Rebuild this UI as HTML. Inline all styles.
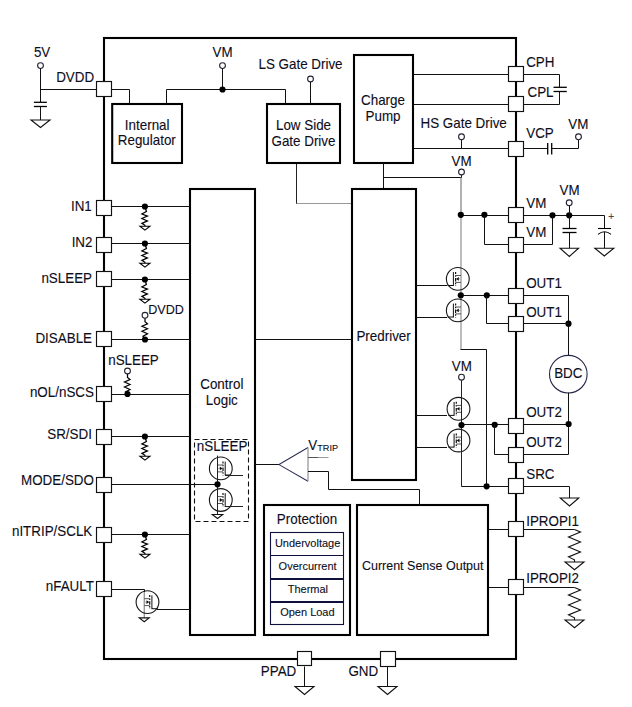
<!DOCTYPE html>
<html><head><meta charset="utf-8"><style>
html,body{margin:0;padding:0;background:#fff;}
svg{display:block;}
text{font-family:"Liberation Sans",sans-serif;}
</style></head><body>
<svg width="632" height="707" viewBox="0 0 632 707">
<rect width="632" height="707" fill="#fff"/>
<rect x="104" y="38" width="412" height="621" fill="none" stroke="#000" stroke-width="2.1"/>
<text transform="translate(33.9,57.1) scale(1,1.04)" font-size="13.4" text-anchor="start" fill="#0d0d1a" stroke="#0d0d1a" stroke-width="0.1">5V</text>
<circle cx="40.5" cy="65.6" r="2.9" fill="#fff" stroke="#223" stroke-width="1.1"/>
<line x1="40.5" y1="68.5" x2="40.5" y2="102.2" stroke="#111" stroke-width="1"/>
<line x1="33.9" y1="102.3" x2="46.9" y2="102.3" stroke="#000" stroke-width="1.3"/>
<line x1="33.9" y1="106.5" x2="46.9" y2="106.5" stroke="#000" stroke-width="1.3"/>
<line x1="40.5" y1="106.5" x2="40.5" y2="120" stroke="#111" stroke-width="1"/>
<polygon points="31.0,120 50.0,120 40.5,127.5" fill="#fff" stroke="#111" stroke-width="1.1"/>
<line x1="40.5" y1="89.5" x2="97" y2="89.5" stroke="#111" stroke-width="1"/>
<text transform="translate(56.2,81.5) scale(1,1.04)" font-size="13.4" text-anchor="start" fill="#0d0d1a" stroke="#0d0d1a" stroke-width="0.1">DVDD</text>
<polyline points="111,89.5 129.5,89.5 129.5,103" fill="none" stroke="#111" stroke-width="1" stroke-linejoin="miter"/>
<text transform="translate(222.5,56.7) scale(1,1.04)" font-size="13.4" text-anchor="middle" fill="#0d0d1a" stroke="#0d0d1a" stroke-width="0.1">VM</text>
<circle cx="222.5" cy="65.6" r="2.9" fill="#fff" stroke="#223" stroke-width="1.1"/>
<line x1="222.5" y1="68.5" x2="222.5" y2="89.5" stroke="#111" stroke-width="1"/>
<polyline points="166.5,103 166.5,89.5 285.5,89.5 285.5,103" fill="none" stroke="#111" stroke-width="1" stroke-linejoin="miter"/>
<circle cx="222.5" cy="89.5" r="3.1" fill="#000"/>
<text transform="translate(258.5,68.5) scale(1,1.04)" font-size="13.4" text-anchor="start" fill="#0d0d1a" stroke="#0d0d1a" stroke-width="0.1">LS Gate Drive</text>
<circle cx="310.5" cy="79" r="2.9" fill="#fff" stroke="#223" stroke-width="1.1"/>
<line x1="310.5" y1="82" x2="310.5" y2="103" stroke="#111" stroke-width="1"/>
<rect x="112.2" y="104" width="69.8" height="59" fill="none" stroke="#000" stroke-width="2.1"/>
<text transform="translate(147.2,129.7) scale(1,1.04)" font-size="13.4" text-anchor="middle" fill="#0d0d1a" stroke="#0d0d1a" stroke-width="0.1">Internal</text>
<text transform="translate(146.8,145.3) scale(1,1.04)" font-size="13.4" text-anchor="middle" fill="#0d0d1a" stroke="#0d0d1a" stroke-width="0.1">Regulator</text>
<rect x="267" y="104" width="73" height="59" fill="none" stroke="#000" stroke-width="2.1"/>
<text transform="translate(303.5,130.4) scale(1,1.04)" font-size="13.4" text-anchor="middle" fill="#0d0d1a" stroke="#0d0d1a" stroke-width="0.1">Low Side</text>
<text transform="translate(303.5,145.7) scale(1,1.04)" font-size="13.4" text-anchor="middle" fill="#0d0d1a" stroke="#0d0d1a" stroke-width="0.1">Gate Drive</text>
<rect x="354" y="55" width="59" height="108" fill="none" stroke="#000" stroke-width="2.1"/>
<text transform="translate(383,105) scale(1,1.04)" font-size="13.4" text-anchor="middle" fill="#0d0d1a" stroke="#0d0d1a" stroke-width="0.1">Charge</text>
<text transform="translate(383,120.5) scale(1,1.04)" font-size="13.4" text-anchor="middle" fill="#0d0d1a" stroke="#0d0d1a" stroke-width="0.1">Pump</text>
<line x1="414" y1="74.5" x2="509" y2="74.5" stroke="#111" stroke-width="1"/>
<line x1="414" y1="104.5" x2="509" y2="104.5" stroke="#111" stroke-width="1"/>
<line x1="414" y1="148.5" x2="509" y2="148.5" stroke="#111" stroke-width="1"/>
<text transform="translate(420.5,127.9) scale(1,1.04)" font-size="13.4" text-anchor="start" fill="#0d0d1a" stroke="#0d0d1a" stroke-width="0.1">HS Gate Drive</text>
<circle cx="461.5" cy="136.8" r="2.9" fill="#fff" stroke="#223" stroke-width="1.1"/>
<line x1="461.5" y1="139.7" x2="461.5" y2="148.5" stroke="#111" stroke-width="1"/>
<line x1="383.5" y1="163" x2="383.5" y2="188.5" stroke="#111" stroke-width="1"/>
<line x1="383.5" y1="177.5" x2="461.5" y2="177.5" stroke="#111" stroke-width="1"/>
<text transform="translate(461.5,166) scale(1,1.04)" font-size="13.4" text-anchor="middle" fill="#0d0d1a" stroke="#0d0d1a" stroke-width="0.1">VM</text>
<circle cx="461.5" cy="172" r="2.9" fill="#fff" stroke="#223" stroke-width="1.1"/>
<line x1="461.5" y1="175" x2="461.5" y2="178" stroke="#222" stroke-width="1"/>
<line x1="461" y1="177.5" x2="461" y2="215" stroke="#888" stroke-width="1.3"/>
<line x1="461" y1="215" x2="461" y2="349.5" stroke="#999" stroke-width="1.3"/>
<line x1="296.5" y1="164" x2="296.5" y2="204" stroke="#222" stroke-width="1"/>
<line x1="296.5" y1="203.5" x2="351" y2="203.5" stroke="#999" stroke-width="1"/>
<rect x="190" y="189" width="65" height="446" fill="none" stroke="#000" stroke-width="2.1"/>
<text transform="translate(221.8,389) scale(1,1.04)" font-size="13.4" text-anchor="middle" fill="#0d0d1a" stroke="#0d0d1a" stroke-width="0.1">Control</text>
<text transform="translate(221.8,404.5) scale(1,1.04)" font-size="13.4" text-anchor="middle" fill="#0d0d1a" stroke="#0d0d1a" stroke-width="0.1">Logic</text>
<rect x="352" y="189" width="64" height="291" fill="none" stroke="#000" stroke-width="2.1"/>
<text transform="translate(383.6,341) scale(1,1.04)" font-size="13.4" text-anchor="middle" fill="#0d0d1a" stroke="#0d0d1a" stroke-width="0.1">Predriver</text>
<rect x="264" y="505" width="86" height="130" fill="none" stroke="#000" stroke-width="2.1"/>
<text transform="translate(307,524) scale(1,1.04)" font-size="13.4" text-anchor="middle" fill="#0d0d1a" stroke="#0d0d1a" stroke-width="0.1">Protection</text>
<rect x="270.5" y="532.5" width="73" height="92" fill="none" stroke="#10103c" stroke-width="1.1"/>
<line x1="270.5" y1="555.5" x2="343.5" y2="555.5" stroke="#10103c" stroke-width="1.1"/>
<line x1="270.5" y1="579" x2="343.5" y2="579" stroke="#10103c" stroke-width="2"/>
<line x1="270.5" y1="602" x2="343.5" y2="602" stroke="#10103c" stroke-width="2"/>
<text transform="translate(307.6,547) scale(1,1.04)" font-size="11" text-anchor="middle" fill="#0d0d1a" stroke="#0d0d1a" stroke-width="0.1">Undervoltage</text>
<text transform="translate(307.6,569.6) scale(1,1.04)" font-size="11" text-anchor="middle" fill="#0d0d1a" stroke="#0d0d1a" stroke-width="0.1">Overcurrent</text>
<text transform="translate(307.9,593.2) scale(1,1.04)" font-size="11" text-anchor="middle" fill="#0d0d1a" stroke="#0d0d1a" stroke-width="0.1">Thermal</text>
<text transform="translate(307.4,616.4) scale(1,1.04)" font-size="11" text-anchor="middle" fill="#0d0d1a" stroke="#0d0d1a" stroke-width="0.1">Open Load</text>
<rect x="357" y="505" width="131" height="130" fill="none" stroke="#000" stroke-width="2.1"/>
<text transform="translate(422.7,569.9) scale(1,1.04)" font-size="12.5" text-anchor="middle" fill="#0d0d1a" stroke="#0d0d1a" stroke-width="0.1">Current Sense Output</text>
<line x1="111" y1="206.5" x2="190" y2="206.5" stroke="#111" stroke-width="1"/>
<text transform="translate(91.8,210.8) scale(1,1.04)" font-size="13.4" text-anchor="end" fill="#0d0d1a" stroke="#0d0d1a" stroke-width="0.1">IN1</text>
<line x1="111" y1="243.5" x2="190" y2="243.5" stroke="#111" stroke-width="1"/>
<text transform="translate(92.5,246.9) scale(1,1.04)" font-size="13.4" text-anchor="end" fill="#0d0d1a" stroke="#0d0d1a" stroke-width="0.1">IN2</text>
<line x1="111" y1="279.5" x2="190" y2="279.5" stroke="#111" stroke-width="1"/>
<text transform="translate(92.0,282.7) scale(1,1.04)" font-size="13.4" text-anchor="end" fill="#0d0d1a" stroke="#0d0d1a" stroke-width="0.1">nSLEEP</text>
<line x1="111" y1="339.5" x2="190" y2="339.5" stroke="#111" stroke-width="1"/>
<text transform="translate(92.0,342.5) scale(1,1.04)" font-size="13.4" text-anchor="end" fill="#0d0d1a" stroke="#0d0d1a" stroke-width="0.1">DISABLE</text>
<line x1="111" y1="394.5" x2="190" y2="394.5" stroke="#111" stroke-width="1"/>
<text transform="translate(93.89999999999999,396.6) scale(1,1.04)" font-size="13.4" text-anchor="end" fill="#0d0d1a" stroke="#0d0d1a" stroke-width="0.1">nOL/nSCS</text>
<line x1="111" y1="436.5" x2="190" y2="436.5" stroke="#111" stroke-width="1"/>
<text transform="translate(91.89999999999999,438.6) scale(1,1.04)" font-size="13.4" text-anchor="end" fill="#0d0d1a" stroke="#0d0d1a" stroke-width="0.1">SR/SDI</text>
<line x1="111" y1="484.5" x2="217.5" y2="484.5" stroke="#111" stroke-width="1"/>
<text transform="translate(93.89999999999999,485.3) scale(1,1.04)" font-size="13.4" text-anchor="end" fill="#0d0d1a" stroke="#0d0d1a" stroke-width="0.1">MODE/SDO</text>
<line x1="111" y1="534.5" x2="190" y2="534.5" stroke="#111" stroke-width="1"/>
<text transform="translate(92.3,535.6) scale(1,1.04)" font-size="13.4" text-anchor="end" fill="#0d0d1a" stroke="#0d0d1a" stroke-width="0.1">nITRIP/SCLK</text>
<polyline points="111,589.5 144.5,589.5 144.5,592" fill="none" stroke="#111" stroke-width="1" stroke-linejoin="miter"/>
<line x1="144.3" y1="592" x2="144.3" y2="618" stroke="#999" stroke-width="1.4"/>
<text transform="translate(93.89999999999999,590.6) scale(1,1.04)" font-size="13.4" text-anchor="end" fill="#0d0d1a" stroke="#0d0d1a" stroke-width="0.1">nFAULT</text>
<polyline points="144.9,206.5 146.4,211.5 141.9,214.0 147.4,216.1 141.9,218.5 147.4,220.9 141.9,223.4 144.9,225.3 144.9,226.3" fill="none" stroke="#000" stroke-width="1.25" stroke-linejoin="miter"/>
<polygon points="139.9,226.3 149.9,226.3 144.9,230.10000000000002" fill="#fff" stroke="#000" stroke-width="1.1"/>
<circle cx="144.9" cy="206.5" r="3.1" fill="#000"/>
<polyline points="144.9,243.5 146.4,248.5 141.9,251.0 147.4,253.1 141.9,255.5 147.4,257.9 141.9,260.4 144.9,262.3 144.9,263.3" fill="none" stroke="#000" stroke-width="1.25" stroke-linejoin="miter"/>
<polygon points="139.9,263.3 149.9,263.3 144.9,267.1" fill="#fff" stroke="#000" stroke-width="1.1"/>
<circle cx="144.9" cy="243.5" r="3.1" fill="#000"/>
<polyline points="144.9,279.5 146.4,284.5 141.9,287.0 147.4,289.1 141.9,291.5 147.4,293.9 141.9,296.4 144.9,298.3 144.9,299.3" fill="none" stroke="#000" stroke-width="1.25" stroke-linejoin="miter"/>
<polygon points="139.9,299.3 149.9,299.3 144.9,303.1" fill="#fff" stroke="#000" stroke-width="1.1"/>
<circle cx="144.9" cy="279.5" r="3.1" fill="#000"/>
<polyline points="144.9,436.5 146.4,441.5 141.9,444.0 147.4,446.1 141.9,448.5 147.4,450.9 141.9,453.4 144.9,455.3 144.9,456.3" fill="none" stroke="#000" stroke-width="1.25" stroke-linejoin="miter"/>
<polygon points="139.9,456.3 149.9,456.3 144.9,460.1" fill="#fff" stroke="#000" stroke-width="1.1"/>
<circle cx="144.9" cy="436.5" r="3.1" fill="#000"/>
<polyline points="144.9,534.5 146.4,539.5 141.9,542.0 147.4,544.1 141.9,546.5 147.4,548.9 141.9,551.4 144.9,553.3 144.9,554.3" fill="none" stroke="#000" stroke-width="1.25" stroke-linejoin="miter"/>
<polygon points="139.9,554.3 149.9,554.3 144.9,558.0999999999999" fill="#fff" stroke="#000" stroke-width="1.1"/>
<circle cx="144.9" cy="534.5" r="3.1" fill="#000"/>
<polyline points="145,318.1 145,321.8 147.5,323.8 142,326.3 147.5,328.8 142,331.3 147.5,333.8 143,336.3 145,339.5" fill="none" stroke="#000" stroke-width="1.25" stroke-linejoin="miter"/>
<circle cx="145" cy="315.3" r="2.9" fill="#fff" stroke="#223" stroke-width="1.1"/>
<circle cx="145" cy="339.5" r="3.1" fill="#000"/>
<text transform="translate(148.2,314.3) scale(1,1.04)" font-size="12.6" text-anchor="start" fill="#0d0d1a" stroke="#0d0d1a" stroke-width="0.1">DVDD</text>
<polyline points="127.5,373.8 127.5,377.5 130.0,379.5 124.5,382 130.0,384.5 124.5,387 130.0,389.5 125.5,392 127.5,394.5" fill="none" stroke="#000" stroke-width="1.25" stroke-linejoin="miter"/>
<circle cx="127.5" cy="371" r="2.9" fill="#fff" stroke="#223" stroke-width="1.1"/>
<circle cx="127.5" cy="394" r="3.1" fill="#000"/>
<text transform="translate(108.2,364.7) scale(1,1.04)" font-size="13.4" text-anchor="start" fill="#0d0d1a" stroke="#0d0d1a" stroke-width="0.1">nSLEEP</text>
<line x1="255" y1="339.5" x2="352" y2="339.5" stroke="#111" stroke-width="1"/>
<circle cx="147.5" cy="602.1" r="11.4" fill="none" stroke="#151515" stroke-width="1.1"/>
<g stroke="#111" stroke-width="1" fill="none">
<line x1="151.9" y1="595.3000000000001" x2="151.9" y2="609.1"/>
<line x1="157.76" y1="608.7" x2="151.9" y2="608.7"/>
<line x1="149.7" y1="595.1" x2="149.7" y2="609.1" stroke-width="1.2" stroke-dasharray="2,1.3,1.5,1.3,3.5,1.3,1.5,1.3,2"/>
<line x1="149.7" y1="598.7" x2="144.3" y2="598.7" stroke="#555"/>
<line x1="149.7" y1="605.6" x2="144.3" y2="605.6" stroke="#555"/>
<line x1="147.2" y1="602.1" x2="144.3" y2="602.1" stroke="#aaa"/>
</g>
<polygon points="149.29999999999998,602.1 146.5,600.2 146.5,604.0" fill="#111"/>
<polygon points="139.2,617.9 149.2,617.9 144.2,621.8" fill="#fff" stroke="#111" stroke-width="1.1"/>
<line x1="157" y1="609.5" x2="190" y2="609.5" stroke="#111" stroke-width="1"/>
<rect x="194.5" y="439.5" width="54" height="82" fill="none" stroke="#111" stroke-width="1.1" stroke-dasharray="5,3"/>
<text transform="translate(196.8,450.8) scale(1,1.04)" font-size="13.4" text-anchor="start" fill="#0d0d1a" stroke="#0d0d1a" stroke-width="0.1">nSLEEP</text>
<circle cx="220.8" cy="468.4" r="11.4" fill="none" stroke="#151515" stroke-width="1.1"/>
<g stroke="#111" stroke-width="1" fill="none">
<line x1="225.20000000000002" y1="461.59999999999997" x2="225.20000000000002" y2="475.4"/>
<line x1="231.06" y1="475.0" x2="225.20000000000002" y2="475.0"/>
<line x1="223.0" y1="461.4" x2="223.0" y2="475.4" stroke-width="1.2" stroke-dasharray="2,1.3,1.5,1.3,3.5,1.3,1.5,1.3,2"/>
<line x1="223.0" y1="465.0" x2="217.60000000000002" y2="465.0" stroke="#555"/>
<line x1="223.0" y1="471.9" x2="217.60000000000002" y2="471.9" stroke="#555"/>
<line x1="220.5" y1="468.4" x2="217.60000000000002" y2="468.4" stroke="#aaa"/>
</g>
<polygon points="222.6,468.4 219.8,466.5 219.8,470.29999999999995" fill="#111"/>
<circle cx="220.8" cy="500" r="11.4" fill="none" stroke="#151515" stroke-width="1.1"/>
<g stroke="#111" stroke-width="1" fill="none">
<line x1="225.20000000000002" y1="493.2" x2="225.20000000000002" y2="507"/>
<line x1="231.06" y1="506.6" x2="225.20000000000002" y2="506.6"/>
<line x1="223.0" y1="493" x2="223.0" y2="507" stroke-width="1.2" stroke-dasharray="2,1.3,1.5,1.3,3.5,1.3,1.5,1.3,2"/>
<line x1="223.0" y1="496.6" x2="217.60000000000002" y2="496.6" stroke="#555"/>
<line x1="223.0" y1="503.5" x2="217.60000000000002" y2="503.5" stroke="#555"/>
<line x1="220.5" y1="500" x2="217.60000000000002" y2="500" stroke="#aaa"/>
</g>
<polygon points="222.6,500 219.8,498.1 219.8,501.9" fill="#111"/>
<line x1="217.5" y1="455.6" x2="217.5" y2="514.5" stroke="#222" stroke-width="1"/>
<circle cx="217.5" cy="484.3" r="3.1" fill="#000"/>
<polygon points="212.25,514.5 222.75,514.5 217.5,518.5" fill="#fff" stroke="#111" stroke-width="1.1"/>
<line x1="225" y1="475.5" x2="243" y2="475.5" stroke="#222" stroke-width="1"/>
<line x1="225" y1="506.5" x2="243" y2="506.5" stroke="#222" stroke-width="1"/>
<line x1="255" y1="464.5" x2="279" y2="464.5" stroke="#111" stroke-width="1"/>
<polyline points="308,447.5 279,464.6 308,481.3" fill="none" stroke="#2b2e55" stroke-width="1.05"/>
<line x1="308" y1="447.5" x2="308" y2="481.3" stroke="#999" stroke-width="1.3"/>
<line x1="308" y1="457.5" x2="318" y2="457.5" stroke="#555" stroke-width="1"/>
<line x1="318" y1="457.5" x2="328.5" y2="457.5" stroke="#999" stroke-width="1"/>
<polyline points="308,471.5 328.5,471.5 328.5,489.5 419.5,489.5 419.5,505" fill="none" stroke="#111" stroke-width="1" stroke-linejoin="miter"/>
<text transform="translate(308.2,449.8) scale(1,1.04)" font-size="13.4" text-anchor="start" fill="#0d0d1a" stroke="#0d0d1a" stroke-width="0.1">V</text>
<text transform="translate(317.3,451.3) scale(1,1.04)" font-size="9.1" text-anchor="start" fill="#0d0d1a" stroke="#0d0d1a" stroke-width="0.1">TRIP</text>
<line x1="460.5" y1="215.5" x2="509" y2="215.5" stroke="#111" stroke-width="1"/>
<circle cx="460.8" cy="214.8" r="3.1" fill="#000"/>
<circle cx="484.4" cy="214.8" r="3.1" fill="#000"/>
<polyline points="484.5,215.5 484.5,244.5 509,244.5" fill="none" stroke="#111" stroke-width="1" stroke-linejoin="miter"/>
<circle cx="457.8" cy="278.9" r="11.4" fill="none" stroke="#151515" stroke-width="1.1"/>
<g stroke="#111" stroke-width="1" fill="none">
<line x1="453.40000000000003" y1="272.09999999999997" x2="453.40000000000003" y2="285.9"/>
<line x1="447.54" y1="285.5" x2="453.40000000000003" y2="285.5"/>
<line x1="455.6" y1="271.9" x2="455.6" y2="285.9" stroke-width="1.2" stroke-dasharray="2,1.3,1.5,1.3,3.5,1.3,1.5,1.3,2"/>
<line x1="455.6" y1="275.5" x2="461.0" y2="275.5" stroke="#555"/>
<line x1="455.6" y1="282.4" x2="461.0" y2="282.4" stroke="#555"/>
<line x1="458.1" y1="278.9" x2="461.0" y2="278.9" stroke="#aaa"/>
</g>
<polygon points="456.0,278.9 458.8,277.0 458.8,280.79999999999995" fill="#111"/>
<circle cx="457.8" cy="310.4" r="11.4" fill="none" stroke="#151515" stroke-width="1.1"/>
<g stroke="#111" stroke-width="1" fill="none">
<line x1="453.40000000000003" y1="303.59999999999997" x2="453.40000000000003" y2="317.4"/>
<line x1="447.54" y1="317.0" x2="453.40000000000003" y2="317.0"/>
<line x1="455.6" y1="303.4" x2="455.6" y2="317.4" stroke-width="1.2" stroke-dasharray="2,1.3,1.5,1.3,3.5,1.3,1.5,1.3,2"/>
<line x1="455.6" y1="307.0" x2="461.0" y2="307.0" stroke="#555"/>
<line x1="455.6" y1="313.9" x2="461.0" y2="313.9" stroke="#555"/>
<line x1="458.1" y1="310.4" x2="461.0" y2="310.4" stroke="#aaa"/>
</g>
<polygon points="456.0,310.4 458.8,308.5 458.8,312.29999999999995" fill="#111"/>
<circle cx="458.5" cy="408.8" r="11.4" fill="none" stroke="#151515" stroke-width="1.1"/>
<g stroke="#111" stroke-width="1" fill="none">
<line x1="454.1" y1="402.0" x2="454.1" y2="415.8"/>
<line x1="448.24" y1="415.40000000000003" x2="454.1" y2="415.40000000000003"/>
<line x1="456.3" y1="401.8" x2="456.3" y2="415.8" stroke-width="1.2" stroke-dasharray="2,1.3,1.5,1.3,3.5,1.3,1.5,1.3,2"/>
<line x1="456.3" y1="405.40000000000003" x2="461.7" y2="405.40000000000003" stroke="#555"/>
<line x1="456.3" y1="412.3" x2="461.7" y2="412.3" stroke="#555"/>
<line x1="458.8" y1="408.8" x2="461.7" y2="408.8" stroke="#aaa"/>
</g>
<polygon points="456.7,408.8 459.5,406.90000000000003 459.5,410.7" fill="#111"/>
<circle cx="458.5" cy="440.5" r="11.4" fill="none" stroke="#151515" stroke-width="1.1"/>
<g stroke="#111" stroke-width="1" fill="none">
<line x1="454.1" y1="433.7" x2="454.1" y2="447.5"/>
<line x1="448.24" y1="447.1" x2="454.1" y2="447.1"/>
<line x1="456.3" y1="433.5" x2="456.3" y2="447.5" stroke-width="1.2" stroke-dasharray="2,1.3,1.5,1.3,3.5,1.3,1.5,1.3,2"/>
<line x1="456.3" y1="437.1" x2="461.7" y2="437.1" stroke="#555"/>
<line x1="456.3" y1="444.0" x2="461.7" y2="444.0" stroke="#555"/>
<line x1="458.8" y1="440.5" x2="461.7" y2="440.5" stroke="#aaa"/>
</g>
<polygon points="456.7,440.5 459.5,438.6 459.5,442.4" fill="#111"/>
<line x1="416" y1="285.5" x2="447" y2="285.5" stroke="#111" stroke-width="1"/>
<line x1="416" y1="317.5" x2="447" y2="317.5" stroke="#111" stroke-width="1"/>
<line x1="416" y1="415.5" x2="447" y2="415.5" stroke="#111" stroke-width="1"/>
<line x1="416" y1="447.5" x2="447" y2="447.5" stroke="#111" stroke-width="1"/>
<line x1="460.5" y1="295.5" x2="509" y2="295.5" stroke="#111" stroke-width="1"/>
<circle cx="460.8" cy="295.3" r="3.1" fill="#000"/>
<circle cx="486.8" cy="295.3" r="3.1" fill="#000"/>
<polyline points="486.5,295.5 486.5,323.5 509,323.5" fill="none" stroke="#111" stroke-width="1" stroke-linejoin="miter"/>
<polyline points="460.5,349.5 486.5,349.5 486.5,486.5" fill="none" stroke="#111" stroke-width="1" stroke-linejoin="miter"/>
<text transform="translate(461.8,370.7) scale(1,1.04)" font-size="13.4" text-anchor="middle" fill="#0d0d1a" stroke="#0d0d1a" stroke-width="0.1">VM</text>
<circle cx="461.5" cy="377.2" r="2.9" fill="#fff" stroke="#223" stroke-width="1.1"/>
<line x1="461.5" y1="380.2" x2="461.5" y2="486.5" stroke="#222" stroke-width="1"/>
<line x1="461.5" y1="424.5" x2="509" y2="424.5" stroke="#111" stroke-width="1"/>
<circle cx="461.5" cy="425" r="3.1" fill="#000"/>
<circle cx="494.7" cy="424.8" r="3.1" fill="#000"/>
<polyline points="494.5,424.5 494.5,454.5 509,454.5" fill="none" stroke="#111" stroke-width="1" stroke-linejoin="miter"/>
<line x1="461.5" y1="486.5" x2="509" y2="486.5" stroke="#111" stroke-width="1"/>
<circle cx="486.6" cy="486.3" r="3.1" fill="#000"/>
<line x1="488.5" y1="529.5" x2="509" y2="529.5" stroke="#111" stroke-width="1"/>
<line x1="488.5" y1="587.5" x2="509" y2="587.5" stroke="#111" stroke-width="1"/>
<rect x="508.5" y="66.5" width="15" height="15" fill="#fff" stroke="#111" stroke-width="1.15"/>
<rect x="508.5" y="96.5" width="15" height="15" fill="#fff" stroke="#111" stroke-width="1.15"/>
<rect x="508.5" y="141.5" width="15" height="15" fill="#fff" stroke="#111" stroke-width="1.15"/>
<rect x="508.5" y="207.5" width="15" height="15" fill="#fff" stroke="#111" stroke-width="1.15"/>
<rect x="508.5" y="237.5" width="15" height="15" fill="#fff" stroke="#111" stroke-width="1.15"/>
<rect x="508.5" y="288.5" width="15" height="15" fill="#fff" stroke="#111" stroke-width="1.15"/>
<rect x="508.5" y="316.5" width="15" height="15" fill="#fff" stroke="#111" stroke-width="1.15"/>
<rect x="508.5" y="418.5" width="15" height="15" fill="#fff" stroke="#111" stroke-width="1.15"/>
<rect x="508.5" y="447.5" width="15" height="15" fill="#fff" stroke="#111" stroke-width="1.15"/>
<rect x="508.5" y="478.5" width="15" height="15" fill="#fff" stroke="#111" stroke-width="1.15"/>
<rect x="508.5" y="521.5" width="15" height="15" fill="#fff" stroke="#111" stroke-width="1.15"/>
<rect x="508.5" y="579.5" width="15" height="15" fill="#fff" stroke="#111" stroke-width="1.15"/>
<text transform="translate(526.2,66.8) scale(1,1.04)" font-size="13.4" text-anchor="start" fill="#0d0d1a" stroke="#0d0d1a" stroke-width="0.1">CPH</text>
<text transform="translate(527.5,96.6) scale(1,1.04)" font-size="13.4" text-anchor="start" fill="#0d0d1a" stroke="#0d0d1a" stroke-width="0.1">CPL</text>
<text transform="translate(526.2,138) scale(1,1.04)" font-size="13.4" text-anchor="start" fill="#0d0d1a" stroke="#0d0d1a" stroke-width="0.1">VCP</text>
<text transform="translate(526.2,207.7) scale(1,1.04)" font-size="13.4" text-anchor="start" fill="#0d0d1a" stroke="#0d0d1a" stroke-width="0.1">VM</text>
<text transform="translate(526.2,236.5) scale(1,1.04)" font-size="13.4" text-anchor="start" fill="#0d0d1a" stroke="#0d0d1a" stroke-width="0.1">VM</text>
<text transform="translate(526.2,287.7) scale(1,1.04)" font-size="13.4" text-anchor="start" fill="#0d0d1a" stroke="#0d0d1a" stroke-width="0.1">OUT1</text>
<text transform="translate(526.2,316.5) scale(1,1.04)" font-size="13.4" text-anchor="start" fill="#0d0d1a" stroke="#0d0d1a" stroke-width="0.1">OUT1</text>
<text transform="translate(526.2,416.7) scale(1,1.04)" font-size="13.4" text-anchor="start" fill="#0d0d1a" stroke="#0d0d1a" stroke-width="0.1">OUT2</text>
<text transform="translate(526.2,446.7) scale(1,1.04)" font-size="13.4" text-anchor="start" fill="#0d0d1a" stroke="#0d0d1a" stroke-width="0.1">OUT2</text>
<text transform="translate(526.2,478.5) scale(1,1.04)" font-size="13.4" text-anchor="start" fill="#0d0d1a" stroke="#0d0d1a" stroke-width="0.1">SRC</text>
<text transform="translate(526.2,525.5) scale(1,1.04)" font-size="13.4" text-anchor="start" fill="#0d0d1a" stroke="#0d0d1a" stroke-width="0.1">IPROPI1</text>
<text transform="translate(526.2,583.4) scale(1,1.04)" font-size="13.4" text-anchor="start" fill="#0d0d1a" stroke="#0d0d1a" stroke-width="0.1">IPROPI2</text>
<polyline points="523,74.5 559.5,74.5 559.5,87.3" fill="none" stroke="#111" stroke-width="1" stroke-linejoin="miter"/>
<polyline points="523,104.5 559.5,104.5 559.5,91.5" fill="none" stroke="#111" stroke-width="1" stroke-linejoin="miter"/>
<line x1="553.5" y1="87.3" x2="566.8" y2="87.3" stroke="#000" stroke-width="1.3"/>
<line x1="553.5" y1="91.5" x2="566.8" y2="91.5" stroke="#000" stroke-width="1.3"/>
<line x1="523" y1="148.5" x2="547.7" y2="148.5" stroke="#111" stroke-width="1"/>
<line x1="547.7" y1="143" x2="547.7" y2="154.6" stroke="#000" stroke-width="1.3"/>
<line x1="551.7" y1="143" x2="551.7" y2="154.6" stroke="#000" stroke-width="1.3"/>
<polyline points="551.7,148.5 578.5,148.5 578.5,139.8" fill="none" stroke="#111" stroke-width="1" stroke-linejoin="miter"/>
<circle cx="578.5" cy="136.8" r="2.9" fill="#fff" stroke="#223" stroke-width="1.1"/>
<text transform="translate(578.3,129) scale(1,1.04)" font-size="13.4" text-anchor="middle" fill="#0d0d1a" stroke="#0d0d1a" stroke-width="0.1">VM</text>
<line x1="523" y1="215.5" x2="604.5" y2="215.5" stroke="#111" stroke-width="1"/>
<circle cx="552.5" cy="215.3" r="3.1" fill="#000"/>
<circle cx="569.2" cy="215.3" r="3.1" fill="#000"/>
<polyline points="552.5,215.5 552.5,244.5 523,244.5" fill="none" stroke="#111" stroke-width="1" stroke-linejoin="miter"/>
<text transform="translate(569.6,194.6) scale(1,1.04)" font-size="13.4" text-anchor="middle" fill="#0d0d1a" stroke="#0d0d1a" stroke-width="0.1">VM</text>
<circle cx="569.2" cy="202.8" r="2.9" fill="#fff" stroke="#223" stroke-width="1.1"/>
<line x1="569.5" y1="205.8" x2="569.5" y2="215.5" stroke="#111" stroke-width="1"/>
<line x1="569.5" y1="215.5" x2="569.5" y2="228.5" stroke="#111" stroke-width="1"/>
<line x1="562.5" y1="228.5" x2="576.5" y2="228.5" stroke="#000" stroke-width="1.3"/>
<line x1="562.5" y1="232.5" x2="576.5" y2="232.5" stroke="#000" stroke-width="1.3"/>
<line x1="569.5" y1="232.5" x2="569.5" y2="248.2" stroke="#111" stroke-width="1"/>
<polygon points="560.05,248.2 578.55,248.2 569.3,256.5" fill="#fff" stroke="#111" stroke-width="1.1"/>
<line x1="604.5" y1="215.5" x2="604.5" y2="228.5" stroke="#111" stroke-width="1"/>
<line x1="598" y1="228.5" x2="611" y2="228.5" stroke="#000" stroke-width="1.1"/>
<path d="M598,234.4 Q604.5,229.2 611,234.4" fill="none" stroke="#000" stroke-width="1.1"/>
<line x1="604.5" y1="232" x2="604.5" y2="248.2" stroke="#111" stroke-width="1"/>
<polygon points="594.8,248.2 613.8,248.2 604.3,256.0" fill="#fff" stroke="#111" stroke-width="1.1"/>
<text transform="translate(608.2,219.8) scale(1,1.04)" font-size="10" text-anchor="start" fill="#445" stroke="#445" stroke-width="0.1">+</text>
<polyline points="523,295.5 568.5,295.5 568.5,355.2" fill="none" stroke="#111" stroke-width="1" stroke-linejoin="miter"/>
<circle cx="568.5" cy="323.7" r="3.1" fill="#000"/>
<line x1="523" y1="323.5" x2="568.5" y2="323.5" stroke="#111" stroke-width="1"/>
<circle cx="568.3" cy="374.2" r="18.8" fill="none" stroke="#25254a" stroke-width="1.1"/>
<text transform="translate(568.3,378.4) scale(1,1.04)" font-size="13.4" text-anchor="middle" fill="#0d0d1a" stroke="#0d0d1a" stroke-width="0.1">BDC</text>
<polyline points="568.5,392.6 568.5,454.5 523,454.5" fill="none" stroke="#111" stroke-width="1" stroke-linejoin="miter"/>
<line x1="523" y1="424.5" x2="568.5" y2="424.5" stroke="#111" stroke-width="1"/>
<circle cx="568.6" cy="424" r="3.1" fill="#000"/>
<polyline points="523,486.5 569.5,486.5 569.5,498" fill="none" stroke="#111" stroke-width="1" stroke-linejoin="miter"/>
<polygon points="560.25,498 578.75,498 569.5,506" fill="#fff" stroke="#111" stroke-width="1.1"/>
<polyline points="523,529.5 574.5,529.5" fill="none" stroke="#111" stroke-width="1" stroke-linejoin="miter"/>
<polyline points="574.5,529.5 580.5,531.9 568.5,536.9 580.5,541.9 568.5,546.9 580.5,551.9 568.5,556.9 574.5,559.8 574.5,562.0" fill="none" stroke="#111" stroke-width="1.1" stroke-linejoin="miter"/>
<polygon points="565.0,562.0 584.0,562.0 574.5,569.8" fill="#fff" stroke="#111" stroke-width="1.1"/>
<polyline points="523,587.5 574.5,587.5" fill="none" stroke="#111" stroke-width="1" stroke-linejoin="miter"/>
<polyline points="574.5,587.5 580.5,589.9 568.5,594.9 580.5,599.9 568.5,604.9 580.5,609.9 568.5,614.9 574.5,617.8 574.5,620.0" fill="none" stroke="#111" stroke-width="1.1" stroke-linejoin="miter"/>
<polygon points="565.0,620.0 584.0,620.0 574.5,627.8" fill="#fff" stroke="#111" stroke-width="1.1"/>
<rect x="297.5" y="651.5" width="14" height="14" fill="#fff" stroke="#111" stroke-width="1.15"/>
<line x1="304.5" y1="666.5" x2="304.5" y2="686.5" stroke="#111" stroke-width="1"/>
<polygon points="295.0,686.5 314.0,686.5 304.5,694.5" fill="#fff" stroke="#111" stroke-width="1.1"/>
<text transform="translate(260.8,675.7) scale(1,1.04)" font-size="13.4" text-anchor="start" fill="#0d0d1a" stroke="#0d0d1a" stroke-width="0.1">PPAD</text>
<rect x="380.5" y="651.5" width="15" height="15" fill="#fff" stroke="#111" stroke-width="1.15"/>
<line x1="387.5" y1="666.5" x2="387.5" y2="686.5" stroke="#111" stroke-width="1"/>
<polygon points="378.0,686.5 397.0,686.5 387.5,694.5" fill="#fff" stroke="#111" stroke-width="1.1"/>
<text transform="translate(348.4,675.7) scale(1,1.04)" font-size="13.4" text-anchor="start" fill="#0d0d1a" stroke="#0d0d1a" stroke-width="0.1">GND</text>
<rect x="96.5" y="81.5" width="15" height="15" fill="#fff" stroke="#111" stroke-width="1.15"/>
<rect x="96.5" y="200.5" width="15" height="15" fill="#fff" stroke="#111" stroke-width="1.15"/>
<rect x="96.5" y="237.5" width="15" height="15" fill="#fff" stroke="#111" stroke-width="1.15"/>
<rect x="96.5" y="271.5" width="15" height="15" fill="#fff" stroke="#111" stroke-width="1.15"/>
<rect x="96.5" y="331.5" width="15" height="15" fill="#fff" stroke="#111" stroke-width="1.15"/>
<rect x="96.5" y="386.5" width="15" height="15" fill="#fff" stroke="#111" stroke-width="1.15"/>
<rect x="96.5" y="429.5" width="15" height="15" fill="#fff" stroke="#111" stroke-width="1.15"/>
<rect x="96.5" y="477.5" width="15" height="15" fill="#fff" stroke="#111" stroke-width="1.15"/>
<rect x="96.5" y="527.5" width="15" height="15" fill="#fff" stroke="#111" stroke-width="1.15"/>
<rect x="96.5" y="581.5" width="15" height="15" fill="#fff" stroke="#111" stroke-width="1.15"/>
</svg></body></html>
